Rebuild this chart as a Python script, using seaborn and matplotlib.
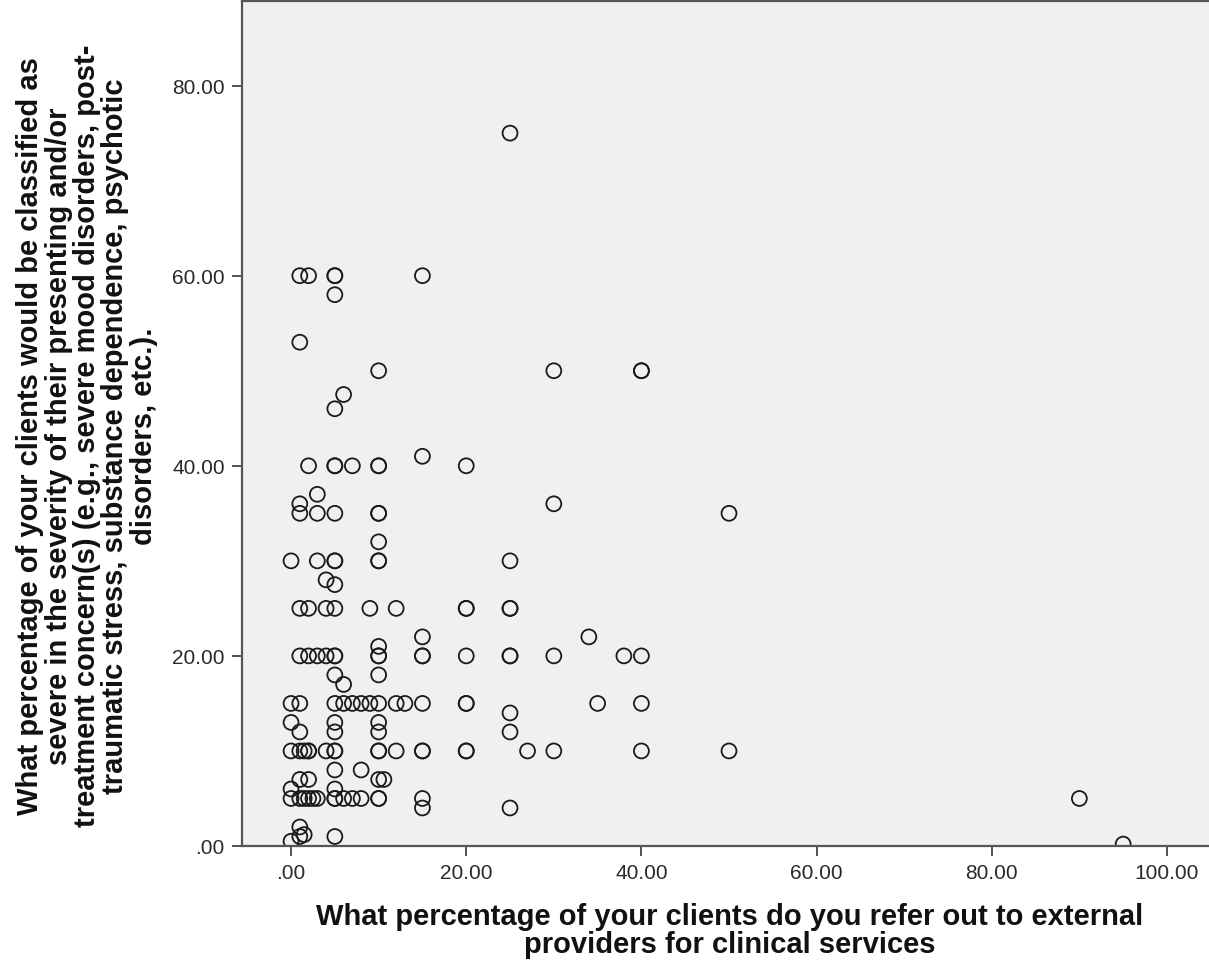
import numpy as np
import pandas as pd
import matplotlib
matplotlib.use("Agg")
import matplotlib.pyplot as plt
import seaborn as sns
from matplotlib.ticker import FuncFormatter

# % of clients referred out (x) and % of clients with severe concerns (y), one entry per respondent
refer_out = [
    25,
    1, 2, 5, 5, 15,
    5, 1,
    10, 30, 40, 40,
    6, 5, 15,
    2, 5, 5, 7, 10, 10, 20,
    3, 1, 30,
    1, 3, 5, 10, 10, 50,
    10,
    0, 3, 5, 5, 10, 10, 25,
    4, 5,
    1, 2, 4, 5, 9, 12, 20, 20, 25, 25,
    15, 34, 10,
    1, 2, 3, 4, 5, 5, 10, 10, 15, 15, 20, 25, 25, 30, 38, 40,
    5, 10, 6,
    0, 1, 5, 6, 7, 8, 9, 10, 12, 13, 15, 20, 20, 35, 40,
    25,
    0, 5, 10,
    1, 5, 10, 25,
    0, 1, 1.5, 2, 2, 4, 5, 5, 10, 10, 12, 15, 15, 20, 20, 27, 30, 40, 50,
    5, 8,
    1, 2, 10, 10.6,
    0, 5,
    0, 1, 1.5, 2, 2.5, 3, 5, 5, 6, 7, 8, 10, 10, 15, 90,
    15, 25,
    1,
    1.5, 1, 5, 0,
    95,
]
severe = [
    75,
    60, 60, 60, 60, 60,
    58, 53,
    50, 50, 50, 50,
    47.5, 46, 41,
    40, 40, 40, 40, 40, 40, 40,
    37, 36, 36,
    35, 35, 35, 35, 35, 35,
    32,
    30, 30, 30, 30, 30, 30, 30,
    28, 27.5,
    25, 25, 25, 25, 25, 25, 25, 25, 25, 25,
    22, 22, 21,
    20, 20, 20, 20, 20, 20, 20, 20, 20, 20, 20, 20, 20, 20, 20, 20,
    18, 18, 17,
    15, 15, 15, 15, 15, 15, 15, 15, 15, 15, 15, 15, 15, 15, 15,
    14,
    13, 13, 13,
    12, 12, 12, 12,
    10, 10, 10, 10, 10, 10, 10, 10, 10, 10, 10, 10, 10, 10, 10, 10, 10, 10, 10,
    8, 8,
    7, 7, 7, 7,
    6, 6,
    5, 5, 5, 5, 5, 5, 5, 5, 5, 5, 5, 5, 5, 5, 5,
    4, 4,
    2,
    1.2, 1, 1, 0.5,
    0.2,
]

x_ticks = [0, 20, 40, 60, 80, 100]
y_ticks = [0, 20, 40, 60, 80]

x_title = ("What percentage of your clients do you refer out to external\n"
           "providers for clinical services")
y_title = ("What percentage of your clients would be classified as\n"
           "severe in the severity of their presenting and/or\n"
           "treatment concern(s) (e.g., severe mood disorders, post-\n"
           "traumatic stress, substance dependence, psychotic\n"
           "disorders, etc.).")

df = pd.DataFrame({"refer_out": refer_out, "severe": severe})

sns.set_style("white")
plt.rcParams['font.family'] = ['Liberation Sans', 'DejaVu Sans']

fig = plt.figure(figsize=(12.09, 9.70), dpi=100)
ax = fig.add_axes([242 / 1209, 1 - 847 / 970, 1 - 242 / 1209, 845 / 970])
ax.set_facecolor('#f0f0f0')

sns.scatterplot(data=df, x="refer_out", y="severe", ax=ax,
                marker='o', s=115, facecolors='none',
                edgecolor='#1a1a1a', linewidth=1.3, legend=False)
ax.collections[0].set_facecolor('none')

ax.set_xlim(-5.6, 104.8)
ax.set_ylim(0, 88.9)
ax.set_xticks(x_ticks)
ax.set_yticks(y_ticks)
fmt = FuncFormatter(lambda v, p: f"{v:.2f}".lstrip('0') if v < 1 else f"{v:.2f}")
ax.xaxis.set_major_formatter(fmt)
ax.yaxis.set_major_formatter(fmt)
ax.tick_params(axis='both', direction='out', length=7.5, width=1.1,
               color='#222222', labelsize=15, labelcolor='#2a2a2a', pad=5)
ax.tick_params(axis='both', bottom=True, left=True)

for side in ['left', 'bottom', 'top']:
    ax.spines[side].set_color('#555555')
    ax.spines[side].set_linewidth(1.6)
ax.spines['right'].set_visible(False)

ax.set_xlabel(x_title, fontsize=21, fontweight='bold',
              linespacing=1.02, color='#111111')
ax.xaxis.set_label_coords((730 - 242) / 967, (847 - 903) / 845)
ax.set_ylabel(y_title, fontsize=21, fontweight='bold',
              linespacing=1.02, color='#111111', va='center', ha='center',
              multialignment='center')
ax.yaxis.set_label_coords((87 - 242) / 967, (847 - 436) / 845)

plt.savefig("out.png", dpi=100, facecolor='white')
plt.close()
